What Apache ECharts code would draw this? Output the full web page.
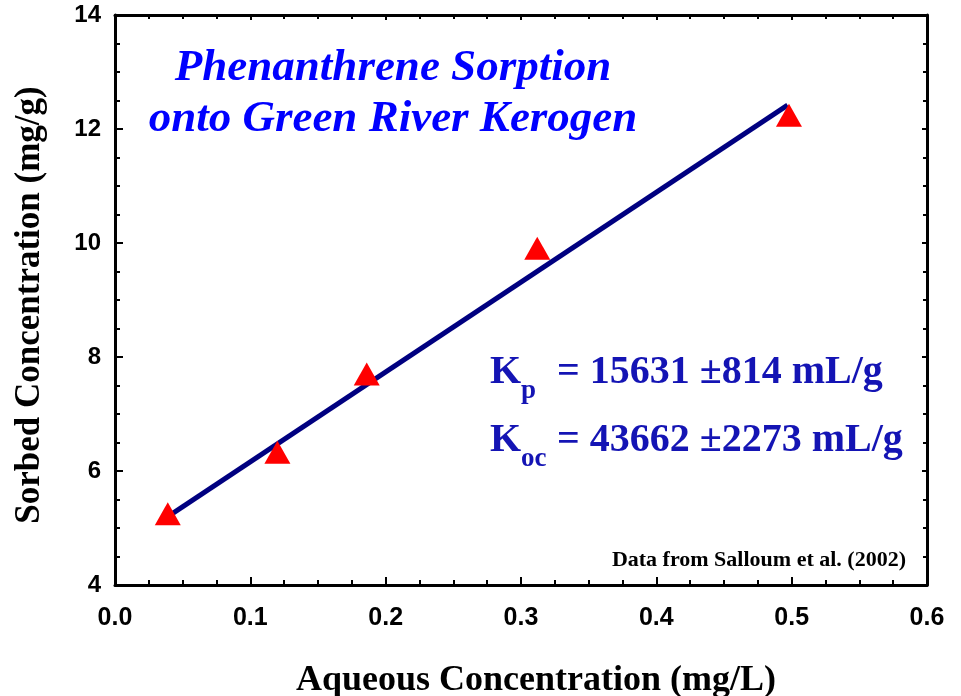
<!DOCTYPE html>
<html>
<head>
<meta charset="utf-8">
<script src="https://cdn.jsdelivr.net/npm/echarts@6/dist/echarts.min.js"></script>
<style>
  html, body { margin: 0; padding: 0; background: #fff; }
  #chart { width: 961px; height: 696px; }
</style>
</head>
<body>
<div id="chart"></div>
<script>
// measured sorption points (aqueous mg/L, sorbed mg/g)
const aqueous = [0.039, 0.120, 0.186, 0.312, 0.498];
const sorbed = [5.25, 6.33, 7.70, 9.91, 12.24];
// linear fit end points
const fitX = [0.039, 0.497];
const fitY = [5.20, 12.42];

const titleLines = ['Phenanthrene Sorption', 'onto Green River Kerogen'];
const xName = 'Aqueous Concentration (mg/L)';
const yName = 'Sorbed Concentration (mg/g)';
const note = 'Data from Salloum et al. (2002)';

const chart = echarts.init(document.getElementById('chart'));

const serif = '"Liberation Serif", "Times New Roman", serif';
const sans = '"Liberation Sans", Arial, sans-serif';
const blue = '#1414b4';

function frameAxis(pos, show, len) {
    return {
        position: pos,
        axisLine: { show: true, onZero: false, lineStyle: { color: '#000', width: 3 } },
        axisTick: { show: true, inside: true, length: len, lineStyle: { color: '#000', width: 2 } },
        minorTick: { show: true, splitNumber: 4, length: show ? 5 : 4, lineStyle: { color: '#000', width: 2 } },
        splitLine: { show: false },
        axisLabel: { show: show }
    };
}

const xBottom = Object.assign(frameAxis('bottom', true, 8), {
    type: 'value', min: 0, max: 0.6, interval: 0.1,
    name: xName, nameLocation: 'middle', nameGap: 78,
    nameTextStyle: { fontFamily: serif, fontWeight: 'bold', fontSize: 36, color: '#000', padding: [0, 0, 0, 30] }
});
xBottom.axisLabel = {
    show: true, margin: 21, fontFamily: sans, fontWeight: 'bold', fontSize: 25, color: '#000',
    formatter: v => v.toFixed(1)
};
const xTop = Object.assign(frameAxis('top', false, 5), { type: 'value', min: 0, max: 0.6, interval: 0.1 });

const yLeft = Object.assign(frameAxis('left', true, 8), {
    type: 'value', min: 4, max: 14, interval: 2,
    name: yName, nameLocation: 'middle', nameGap: 68,
    nameTextStyle: { fontFamily: serif, fontWeight: 'bold', fontSize: 35, color: '#000', padding: [0, 10, 0, 0] }
});
yLeft.axisLabel = { show: true, margin: 14, fontFamily: sans, fontWeight: 'bold', fontSize: 24, color: '#000' };
const yRight = Object.assign(frameAxis('right', false, 5), { type: 'value', min: 4, max: 14, interval: 2 });

function label(text, x, y, font, fill, align) {
    return { type: 'text', x: x, y: y, style: { text: text, font: font, fill: fill, align: align || 'left', verticalAlign: 'top' } };
}

chart.setOption({
    animation: false,
    backgroundColor: '#fff',
    grid: { left: 115, right: 34, top: 15, bottom: 111, outerBoundsMode: 'none' },
    xAxis: [xBottom, xTop],
    yAxis: [yLeft, yRight],
    series: [
        {
            type: 'line',
            data: fitX.map((x, i) => [x, fitY[i]]),
            showSymbol: false,
            lineStyle: { color: '#000080', width: 5 },
            z: 2
        },
        {
            type: 'scatter',
            data: aqueous.map((x, i) => [x, sorbed[i]]),
            symbol: 'triangle',
            symbolSize: [26, 23],
            itemStyle: { color: '#ff0000', opacity: 1 },
            z: 3
        }
    ],
    graphic: [
        label(titleLines[0], 393, 46, 'italic bold 45px ' + serif, '#0000ff', 'center'),
        label(titleLines[1], 393, 97, 'italic bold 45px ' + serif, '#0000ff', 'center'),
        label('K', 490, 353, 'bold 40px ' + serif, blue),
        label('p', 521, 378, 'bold 27px ' + serif, blue),
        label('= 15631 \u00b1814 mL/g', 557, 353, 'bold 40px ' + serif, blue),
        label('K', 490, 421, 'bold 40px ' + serif, blue),
        label('oc', 521, 446, 'bold 27px ' + serif, blue),
        label('= 43662 \u00b12273 mL/g', 557, 421, 'bold 40px ' + serif, blue),
        label(note, 906, 549, 'bold 22px ' + serif, '#000', 'right')
    ]
});
</script>
</body>
</html>
